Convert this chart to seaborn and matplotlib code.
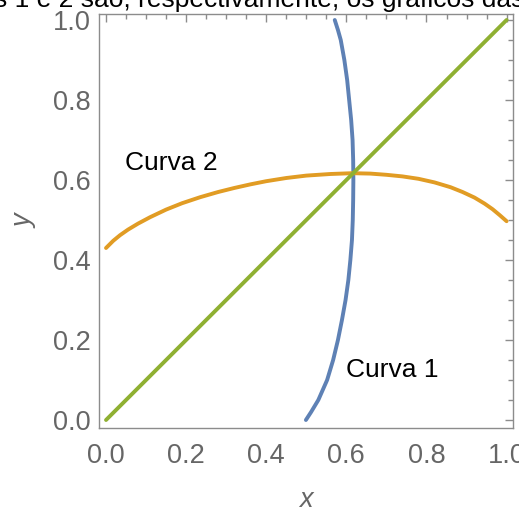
import numpy as np
import pandas as pd
import matplotlib
matplotlib.use("Agg")
import matplotlib.pyplot as plt
import seaborn as sns
from matplotlib.ticker import MultipleLocator, FormatStrFormatter

# Curva 1: x em função de y
curva1_y = [0.0, 0.02, 0.05, 0.1, 0.15, 0.2, 0.25, 0.3, 0.35, 0.4, 0.45, 0.5,
            0.55, 0.6, 0.65, 0.7, 0.75, 0.8, 0.85, 0.9, 0.95, 0.975, 1.0]
curva1_x = [0.499, 0.512, 0.53, 0.552, 0.567, 0.579, 0.589, 0.598, 0.605, 0.61, 0.614, 0.616,
            0.617, 0.6175, 0.617, 0.6155, 0.612, 0.607, 0.602, 0.595, 0.586, 0.579, 0.571]

# Curva 2: y em função de x
curva2_x = [0.0, 0.018, 0.035, 0.055, 0.08, 0.11, 0.15, 0.19, 0.235, 0.28, 0.32, 0.36, 0.40,
            0.45, 0.50, 0.56, 0.615, 0.66, 0.70, 0.74, 0.78, 0.82, 0.86, 0.89, 0.92, 0.945,
            0.965, 0.983, 1.0]
curva2_y = [0.43, 0.448, 0.462, 0.476, 0.491, 0.507, 0.526, 0.542, 0.557, 0.570, 0.580, 0.589, 0.597,
            0.605, 0.611, 0.615, 0.617, 0.616, 0.613, 0.609, 0.603, 0.594, 0.582, 0.570, 0.556, 0.541,
            0.527, 0.512, 0.497]

# reta y = x
reta_x = [0.0, 1.0]
reta_y = [0.0, 1.0]

titulo = "As curvas 1 e 2 são, respectivamente, os gráficos das"
rotulo1 = "Curva 1"
rotulo2 = "Curva 2"

sns.set_style("white")
plt.rcParams['font.family'] = ['Liberation Sans', 'DejaVu Sans']

azul = '#5e81b5'
laranja = '#e19c24'
verde = '#8fb032'
cinza = '#666666'
moldura = '#8c8c8c'

fig = plt.figure(figsize=(5.19, 5.11), dpi=100)
ax = fig.add_axes([99 / 519, 1 - 428 / 511, 414 / 519, 414 / 511])

lw = 2.8
sns.lineplot(x=curva1_x, y=curva1_y, sort=False, estimator=None, color=azul, linewidth=lw, ax=ax)
sns.lineplot(x=curva2_x, y=curva2_y, sort=False, estimator=None, color=laranja, linewidth=lw, ax=ax)
sns.lineplot(x=reta_x, y=reta_y, sort=False, estimator=None, color=verde, linewidth=lw, ax=ax)

ax.set_xlim(-0.0175, 1.016)
ax.set_ylim(-0.02, 1.015)

ax.xaxis.set_major_locator(MultipleLocator(0.2))
ax.yaxis.set_major_locator(MultipleLocator(0.2))
ax.xaxis.set_minor_locator(MultipleLocator(0.05))
ax.yaxis.set_minor_locator(MultipleLocator(0.05))
ax.xaxis.set_major_formatter(FormatStrFormatter('%.1f'))
ax.yaxis.set_major_formatter(FormatStrFormatter('%.1f'))

ax.tick_params(which='both', direction='in', top=True, right=True, color=moldura,
               labelcolor=cinza, labelsize=19.5, width=1)
ax.tick_params(which='major', length=6)
ax.tick_params(which='minor', length=3.5)
ax.tick_params(axis='x', pad=10.5)
ax.tick_params(axis='y', pad=6)

for s in ax.spines.values():
    s.set_color(moldura)
    s.set_linewidth(1)

ax.set_xlabel('x', fontsize=19.5, style='italic', color=cinza, labelpad=13)
ax.set_ylabel('y', fontsize=19.5, style='italic', color=cinza, labelpad=11)

ax.text(0.0475, 0.625, rotulo2, fontsize=19, color='black', va='baseline')
ax.text(0.60, 0.107, rotulo1, fontsize=19, color='black', va='baseline')

fig.text(524 / 519, 1 - 7 / 511, titulo, fontsize=19, color='black', ha='right', va='baseline')

fig.savefig('out.png', dpi=100)
